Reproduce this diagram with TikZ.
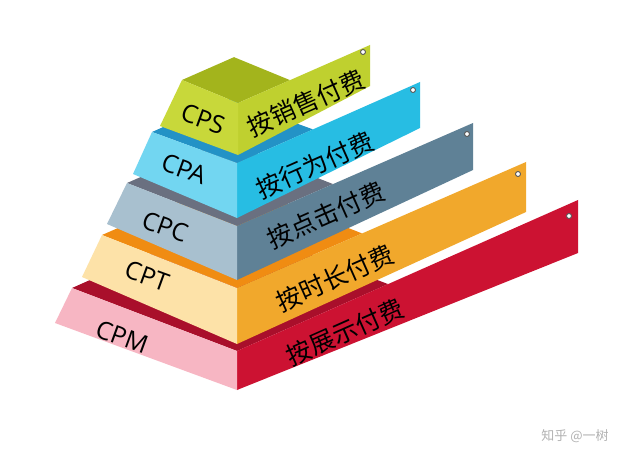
\documentclass[tikz,border=0pt]{standalone}
\usepackage{fontspec}
\setsansfont{Open Sans}
\newfontfamily\zhfont{Noto Sans CJK SC}
\usepackage{tikz}
\usetikzlibrary{calc}
% tier colours: front face, ribbon, top face
\definecolor{cpsfront}{HTML}{C8D83A}
\definecolor{cpsside}{HTML}{BFD02F}
\definecolor{cpstop}{HTML}{A3B41C}
\definecolor{cpafront}{HTML}{72D6F1}
\definecolor{cpaside}{HTML}{27BDE3}
\definecolor{cpatop}{HTML}{2392C6}
\definecolor{cpcfront}{HTML}{A8C0CF}
\definecolor{cpcside}{HTML}{5F8196}
\definecolor{cpctop}{HTML}{6A7080}
\definecolor{cptfront}{HTML}{FDE2A8}
\definecolor{cptside}{HTML}{F1A82C}
\definecolor{cpttop}{HTML}{F08C12}
\definecolor{cpmfront}{HTML}{F7B6C3}
\definecolor{cpmside}{HTML}{CC1232}
\definecolor{cpmtop}{HTML}{A90F2B}
\tikzset{
    %Define style for the short names on the front faces
    abbr/.style={
           font=\sffamily\fontsize{25}{25}\selectfont,
           text=black,
           inner sep=0pt,
           rotate=-20},
    %Define style for the payment texts on the ribbons
    pay/.style={
           font=\zhfont\fontsize{25}{25}\selectfont,
           text=black,
           inner sep=0pt,
           rotate=24},
    %Define style for the ribbon holes
    hole/.style={
           circle,
           draw=black!65, line width=0.9pt,
           fill=white,
           inner sep=0pt,
           minimum size=5pt},
    wmark/.style={
           font=\zhfont\fontsize{13}{13}\selectfont,
           text=black!30,
           inner sep=0pt}
}
\begin{document}
\begin{tikzpicture}[x=1pt,y=-1pt]
\useasboundingbox (0,0) rectangle (640,465);
\fill[white] (0,0) rectangle (640,465);

 %CPM
\coordinate (m-tl) at (72,288);
\coordinate (m-p) at (237,351);
\coordinate (m-q) at (237,390);
\coordinate (m-bl) at (55,323);
\coordinate (m-et) at (578,200);
\coordinate (m-eb) at (578,253);
\coordinate (m-r) at ($(m-p)!0.443!(m-et)$);
\coordinate (m-b) at ($(m-tl)+(m-r)-(m-p)$);
\fill[cpmtop] (m-tl) -- (m-p) -- (m-r) -- (m-b) -- cycle;
\fill[cpmside] (m-p) -- (m-et) -- (m-eb) -- (m-q) -- cycle;
\fill[cpmfront] (m-tl) -- (m-p) -- (m-q) -- (m-bl) -- cycle;
\node[hole] (m-hole) at (569,216) {};
\node[abbr] (m-abbr) at (122,337) {CPM};
\node[pay] (m-pay) at (345,332) {按展示付费};

 %CPT
\coordinate (t-tl) at (102,235);
\coordinate (t-p) at (237,288);
\coordinate (t-q) at (237,344);
\coordinate (t-bl) at (82,277);
\coordinate (t-et) at (526,162);
\coordinate (t-eb) at (526,212);
\coordinate (t-r) at ($(t-p)!0.433!(t-et)$);
\coordinate (t-b) at ($(t-tl)+(t-r)-(t-p)$);
\fill[cpttop] (t-tl) -- (t-p) -- (t-r) -- (t-b) -- cycle;
\fill[cptside] (t-p) -- (t-et) -- (t-eb) -- (t-q) -- cycle;
\fill[cptfront] (t-tl) -- (t-p) -- (t-q) -- (t-bl) -- cycle;
\node[hole] (t-hole) at (518,174) {};
\node[abbr] (t-abbr) at (147,276) {CPT};
\node[pay] (t-pay) at (335,278) {按时长付费};

 %CPC
\coordinate (c-tl) at (127,183);
\coordinate (c-p) at (237,226);
\coordinate (c-q) at (237,280);
\coordinate (c-bl) at (107,224);
\coordinate (c-et) at (473,123);
\coordinate (c-eb) at (473,170);
\coordinate (c-r) at ($(c-p)!0.407!(c-et)$);
\coordinate (c-b) at ($(c-tl)+(c-r)-(c-p)$);
\fill[cpctop] (c-tl) -- (c-p) -- (c-r) -- (c-b) -- cycle;
\fill[cpcside] (c-p) -- (c-et) -- (c-eb) -- (c-q) -- cycle;
\fill[cpcfront] (c-tl) -- (c-p) -- (c-q) -- (c-bl) -- cycle;
\node[hole] (c-hole) at (467,134) {};
\node[abbr] (c-abbr) at (165,227) {CPC};
\node[pay] (c-pay) at (326,215) {按点击付费};

 %CPA
\coordinate (a-tl) at (152,132);
\coordinate (a-p) at (237,163);
\coordinate (a-q) at (237,218);
\coordinate (a-bl) at (133,174);
\coordinate (a-et) at (420,82);
\coordinate (a-eb) at (420,128);
\coordinate (a-r) at ($(a-p)!0.415!(a-et)$);
\coordinate (a-b) at ($(a-tl)+(a-r)-(a-p)$);
\fill[cpatop] (a-tl) -- (a-p) -- (a-r) -- (a-b) -- cycle;
\fill[cpaside] (a-p) -- (a-et) -- (a-eb) -- (a-q) -- cycle;
\fill[cpafront] (a-tl) -- (a-p) -- (a-q) -- (a-bl) -- cycle;
\node[hole] (a-hole) at (413,90) {};
\node[abbr] (a-abbr) at (184,169) {CPA};
\node[pay] (a-pay) at (315,165) {按行为付费};

 %CPS
\coordinate (s-tl) at (182,80);
\coordinate (s-p) at (238,103);
\coordinate (s-q) at (238,155);
\coordinate (s-bl) at (160,126);
\coordinate (s-et) at (370,45);
\coordinate (s-eb) at (370,86);
\coordinate (s-r) at ($(s-p)!0.394!(s-et)$);
\coordinate (s-b) at ($(s-tl)+(s-r)-(s-p)$);
\fill[cpstop] (s-tl) -- (s-p) -- (s-r) -- (s-b) -- cycle;
\fill[cpsside] (s-p) -- (s-et) -- (s-eb) -- (s-q) -- cycle;
\fill[cpsfront] (s-tl) -- (s-p) -- (s-q) -- (s-bl) -- cycle;
\node[hole] (s-hole) at (363,52) {};
\node[abbr] (s-abbr) at (203,119) {CPS};
\node[pay] (s-pay) at (306,103) {按销售付费};

\node[wmark] (wm) at (575,436) {知乎 @一树};
\end{tikzpicture}
\end{document}
